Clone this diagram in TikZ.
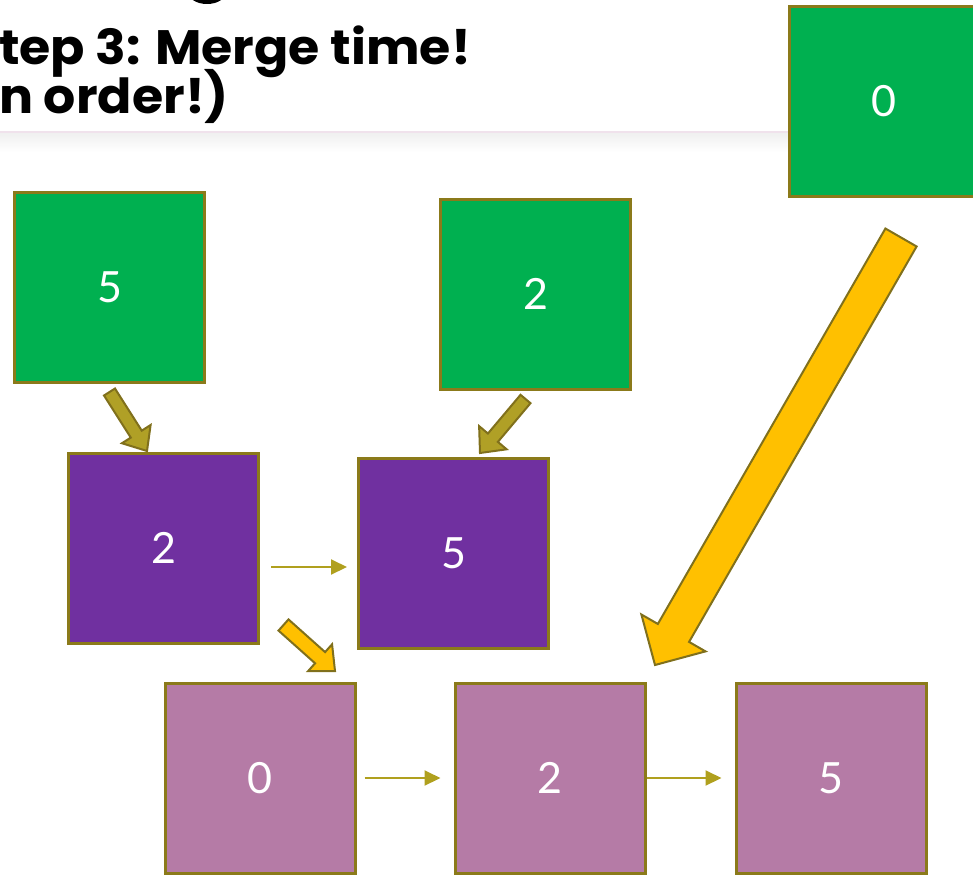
\documentclass[tikz,border=0pt]{standalone}
\usepackage{fontspec}
\setmainfont{Lato}
\newfontfamily\titlefont{Poppins}
\usetikzlibrary{calc,arrows.meta}
\definecolor{boxgreen}{HTML}{00B050}
\definecolor{boxpurple}{HTML}{7030A0}
\definecolor{boxpink}{RGB}{181,123,166}
\definecolor{boxborder}{RGB}{139,122,26}
\definecolor{olivefill}{RGB}{176,160,38}
\definecolor{arrowborder}{RGB}{128,112,28}
\definecolor{goldfill}{HTML}{FFC000}
\definecolor{thinarrow}{RGB}{176,160,30}
\definecolor{seppink}{RGB}{240,226,236}
\newcommand\blockarrow[6]{%
  \coordinate (ba-c) at ($(#3)!#6!(#2)$);
  \draw[#1] ($(#2)!#4!90:(#3)$) -- ($(ba-c)!#4!90:(#3)$) -- ($(ba-c)!#5!90:(#3)$)
    -- (#3) -- ($(ba-c)!#5!-90:(#3)$) -- ($(ba-c)!#4!-90:(#3)$) -- ($(#2)!#4!-90:(#3)$) -- cycle;
}
\tikzset{
  numbox/.style={draw=boxborder, line width=3pt, minimum width=190pt, minimum height=190pt,
    inner sep=0pt, text=white, font=\fontsize{43}{48}\selectfont},
  gbox/.style={numbox, fill=boxgreen},
  pbox/.style={numbox, fill=boxpurple},
  kbox/.style={numbox, fill=boxpink},
  olivearrow/.style={fill=olivefill, draw=arrowborder, line width=2pt, line join=miter},
  goldarrow/.style={fill=goldfill, draw=arrowborder, line width=2pt, line join=miter},
  thin/.style={draw=thinarrow, line width=2pt, -{Triangle[length=16pt,width=15pt]}},
  titletext/.style={font=\titlefont\bfseries\fontsize{46}{50}\selectfont, inner sep=0pt, text=black}
}
\begin{document}
\begin{tikzpicture}[x=1pt,y=-1pt]
\useasboundingbox (0,0) rectangle (973,875);
\clip (0,0) rectangle (973,875);
% title fragments
\fill[black] (207,-8) ellipse [x radius=19, y radius=12];
\node[titletext, anchor=base west] (t1) at (-1,64) {\scalebox{1.1}[1.05]{tep 3: Merge time!}};
\node[titletext, anchor=base west] (t2) at (-1,113) {\scalebox{1.1}[1.05]{n order!)}};
% separator
\shade[top color=black!6, bottom color=white] (0,133) rectangle (789,152);
\draw[seppink, line width=2pt] (0,132) -- (789,132);
% boxes
\node[gbox] (g5) at (109.5,287.5) {5};
\node[gbox] (g2) at (535.5,294) {2};
\node[gbox] (g0) at (884,101.5) {0};
\node[pbox] (p2) at (163.5,548) {2};
\node[pbox] (p5) at (453.5,553) {5};
\node[kbox] (k0) at (260,778) {0};
\node[kbox] (k2) at (550,778) {2};
\node[kbox] (k5) at (831,778) {5};
% thin arrows
\draw[thin] ([shift={(11,19)}]p2.east) -- ([shift={(-10,14)}]p5.west);
\draw[thin] ([shift={(8,0)}]k0.east) -- ([shift={(-13,0)}]k2.west);
\draw[thin] (k2.east) -- ([shift={(-13,0)}]k5.west);
% block arrows
\coordinate (a1t) at (109.5,392);
\coordinate (a1h) at (147,451);
\coordinate (a2t) at (525.5,399);
\coordinate (a2h) at (480,453);
\coordinate (a3t) at (283.5,625);
\coordinate (a3h) at (335,671);
\coordinate (a4t) at (901,237.5);
\coordinate (a4h) at (655,665);
\blockarrow{olivearrow}{a1t}{a1h}{6.5pt}{17pt}{20pt}
\blockarrow{olivearrow}{a2t}{a2h}{6.5pt}{18pt}{20pt}
\blockarrow{goldarrow}{a3t}{a3h}{7.5pt}{18pt}{20pt}
\blockarrow{goldarrow}{a4t}{a4h}{18pt}{37pt}{37pt}
\end{tikzpicture}
\end{document}
